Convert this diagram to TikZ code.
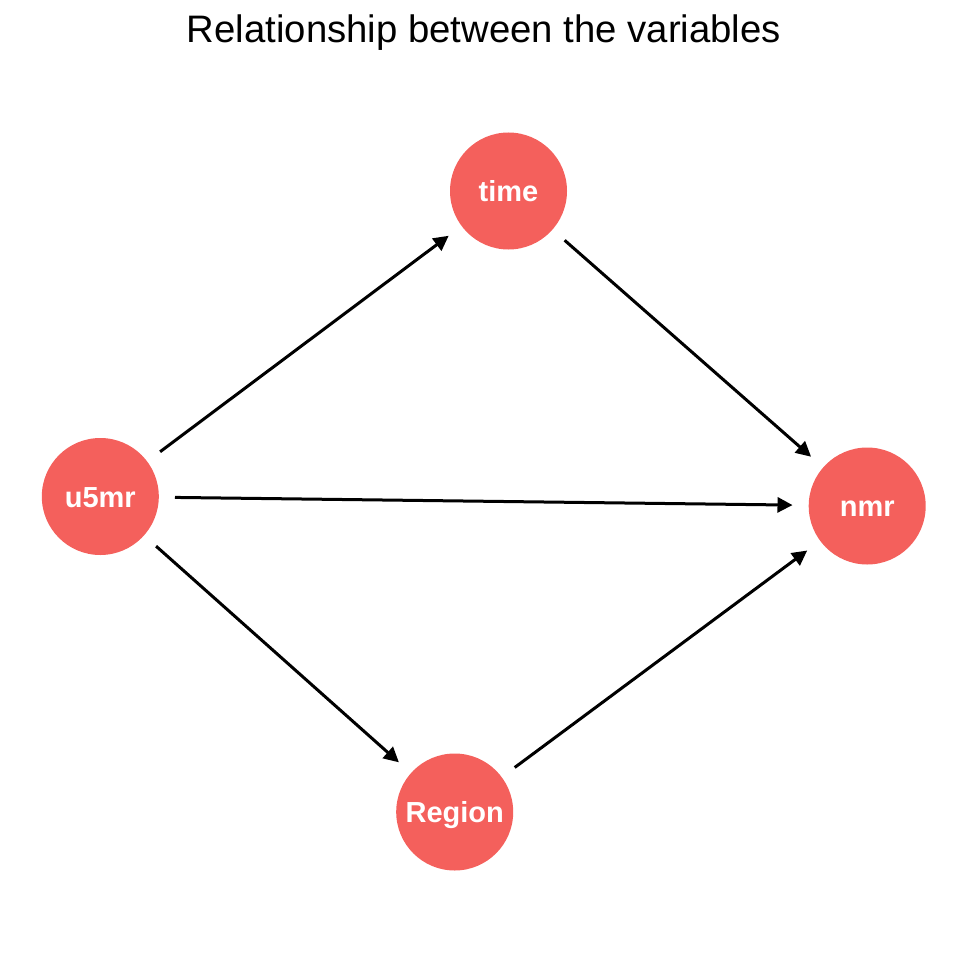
\documentclass[tikz,border=0pt]{standalone}
\usepackage{fontspec}
\setmainfont{Liberation Sans}
\usetikzlibrary{arrows.meta}
\definecolor{nodo}{RGB}{244,96,92}
\begin{document}
\begin{tikzpicture}[x=1pt, y=-1pt,
        var/.style={circle, fill=nodo, minimum size=117pt, inner sep=0pt,
            text height=21pt, text depth=0pt,
            text=white, font=\fontsize{29}{29}\selectfont\bfseries},
        arco/.style={-{Triangle[length=15pt, width=15pt]}, line width=3pt,
            shorten <=16pt, shorten >=16pt}]
        \useasboundingbox (0,0) rectangle (960,960);

        % Titolo
        \node[anchor=base, font=\fontsize{38.3}{38.3}\selectfont] (titolo) at (484,42.7) {Relationship between the variables};

        % Nodi
        \node[var] (time) at (508.5,191) {time};
        \node[var] (u5mr) at (100.3,496.5) {u5mr};
        \node[var] (nmr) at (867.2,506) {nmr};
        \node[var] (region) at (454.7,812) {Region};

        % Archi
        \draw[arco] (u5mr) -- (time);
        \draw[arco] (u5mr) -- (nmr);
        \draw[arco] (u5mr) -- (region);
        \draw[arco] (time) -- (nmr);
        \draw[arco] (region) -- (nmr);

    \end{tikzpicture}
\end{document}
